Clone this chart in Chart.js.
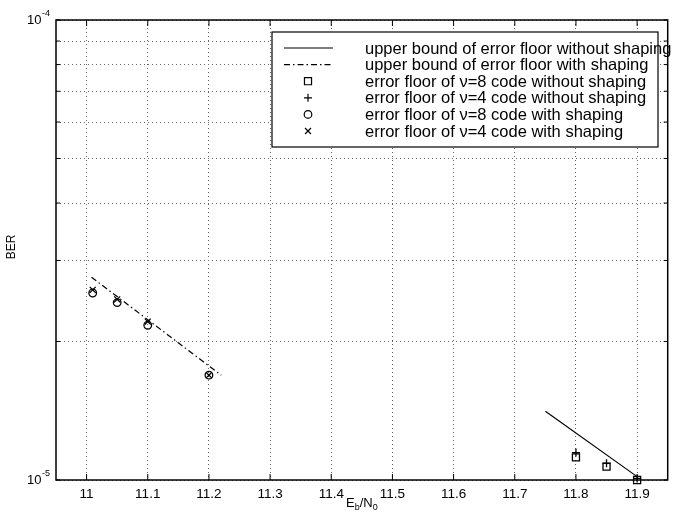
<!DOCTYPE html>
<html lang="en">
<head>
  <meta charset="UTF-8" />
  <title>BER error floor</title>
  <script src="https://cdn.jsdelivr.net/npm/chart.js@4.4.1/dist/chart.umd.min.js"></script>
  <style>
    body{margin:0;background:#fff;}
    #wrap{width:674px;height:518px;}
  </style>
</head>
<body>
  <div id="wrap"><canvas id="chart" width="674" height="518"></canvas></div>

  <script>
    // axis ticks
    const xTicks = [11, 11.1, 11.2, 11.3, 11.4, 11.5, 11.6, 11.7, 11.8, 11.9];
    const xTickLabels = ['11','11.1','11.2','11.3','11.4','11.5','11.6','11.7','11.8','11.9'];
    const yTicks = [1e-5, 2e-5, 3e-5, 4e-5, 5e-5, 6e-5, 7e-5, 8e-5, 9e-5, 1e-4];

    // upper bounds (two end points each)
    const boundNoShapeX = [11.75, 11.9];
    const boundNoShapeBER = [1.41e-5, 1.017e-5];
    const boundShapeX = [11.008, 11.22];
    const boundShapeBER = [2.76e-5, 1.69e-5];

    // simulated error floors
    const noShapeX = [11.8, 11.85, 11.9];
    const v8NoShapeBER = [1.12e-5, 1.069e-5, 1.0e-5];
    const v4NoShapeBER = [1.147e-5, 1.087e-5, 1.008e-5];
    const shapeX = [11.01, 11.05, 11.1, 11.2];
    const v8ShapeBER = [2.55e-5, 2.43e-5, 2.17e-5, 1.69e-5];
    const v4ShapeBER = [2.59e-5, 2.47e-5, 2.21e-5, 1.69e-5];

    const FONT = '"Liberation Sans", Arial, sans-serif';
    const pts = (xs, ys) => xs.map((x, i) => ({x, y: ys[i]}));

    const lineSet = (label, xs, ys, dash) => ({
      label, data: pts(xs, ys), showLine: true, pointRadius: 0,
      borderColor: '#000', borderWidth: 1.2, borderDash: dash, clip: false
    });
    const markSet = (label, xs, ys, style, r) => ({
      label, data: pts(xs, ys), showLine: false, pointStyle: style,
      pointRadius: r, pointBorderWidth: 1.3, pointBorderColor: '#000',
      pointBackgroundColor: 'rgba(0,0,0,0)', borderColor: '#000', clip: false
    });

    const datasets = [
      lineSet('upper bound of error floor without shaping', boundNoShapeX, boundNoShapeBER, []),
      lineSet('upper bound of error floor with shaping', boundShapeX, boundShapeBER, [6, 3, 1.5, 3]),
      markSet('error floor of \u03bd=8 code without shaping', noShapeX, v8NoShapeBER, 'rect', 5),
      markSet('error floor of \u03bd=4 code without shaping', noShapeX, v4NoShapeBER, 'cross', 4),
      markSet('error floor of \u03bd=8 code with shaping', shapeX, v8ShapeBER, 'circle', 3.8),
      markSet('error floor of \u03bd=4 code with shaping', shapeX, v4ShapeBER, 'crossRot', 4.2)
    ];

    const decor = {
      id: 'decor',
      afterDraw(chart){
        const {ctx, chartArea: a, scales: {x, y}} = chart;
        const seg = (x1, y1, x2, y2) => { ctx.beginPath(); ctx.moveTo(x1, y1); ctx.lineTo(x2, y2); ctx.stroke(); };
        ctx.save();
        ctx.strokeStyle = '#000';
        ctx.fillStyle = '#000';

        // inward tick marks
        ctx.lineWidth = 1;
        xTicks.forEach(v => {
          const px = x.getPixelForValue(v);
          seg(px, a.top, px, a.top + 6);
          seg(px, a.bottom, px, a.bottom - 6);
        });
        yTicks.forEach(v => {
          const py = y.getPixelForValue(v);
          seg(a.left, py, a.left + 4, py);
          seg(a.right, py, a.right - 4, py);
        });

        // axes box
        ctx.lineWidth = 1.5;
        ctx.strokeRect(a.left, a.top, a.right - a.left, a.bottom - a.top);

        // y labels 10^-5 / 10^-4
        ctx.textBaseline = 'middle';
        ctx.textAlign = 'left';
        [[1e-4, '-4'], [1e-5, '-5']].forEach(([v, ex]) => {
          const py = y.getPixelForValue(v);
          ctx.font = '13px ' + FONT;
          ctx.fillText('10', 27, py);
          ctx.font = '9px ' + FONT;
          ctx.fillText(ex, 42, py - 6);
        });

        // y title
        ctx.save();
        ctx.translate(12, 247);
        ctx.rotate(-Math.PI / 2);
        ctx.textAlign = 'center';
        ctx.font = '12px ' + FONT;
        ctx.fillText('BER', 0, 0);
        ctx.restore();

        // x title E_b/N_0
        const parts = [['E', 13, 0], ['b', 9, 3], ['/N', 13, 0], ['0', 9, 3]];
        ctx.textBaseline = 'alphabetic';
        let total = 0;
        parts.forEach(p => { ctx.font = p[1] + 'px ' + FONT; total += ctx.measureText(p[0]).width; });
        let cx = (a.left + a.right) / 2 - total / 2;
        parts.forEach(p => {
          ctx.font = p[1] + 'px ' + FONT;
          ctx.fillText(p[0], cx, 507 + p[2]);
          cx += ctx.measureText(p[0]).width;
        });

        // legend box
        const lx = 272, ly = 32, lw = 386, lh = 115;
        ctx.fillStyle = '#fff';
        ctx.fillRect(lx, ly, lw, lh);
        ctx.lineWidth = 1.2;
        ctx.strokeRect(lx, ly, lw, lh);
        ctx.fillStyle = '#000';
        ctx.font = '16.5px ' + FONT;
        ctx.textBaseline = 'middle';
        chart.data.datasets.forEach((ds, i) => {
          const ry = 48 + i * 16.6;
          ctx.strokeStyle = '#000';
          if (ds.showLine) {
            ctx.lineWidth = ds.borderWidth;
            ctx.setLineDash(ds.borderDash);
            seg(284, ry, 333, ry);
            ctx.setLineDash([]);
          } else {
            ctx.fillStyle = 'rgba(0,0,0,0)';
            Chart.helpers.drawPoint(ctx, {pointStyle: ds.pointStyle, radius: ds.pointRadius, rotation: 0, borderWidth: ds.pointBorderWidth}, 308, ry);
            ctx.fillStyle = '#000';
          }
          ctx.fillText(ds.label, 365, ry + 1);
        });
        ctx.restore();
      }
    };

    new Chart(document.getElementById('chart').getContext('2d'), {
      type: 'scatter',
      data: {datasets},
      plugins: [decor],
      options: {
        responsive: false,
        animation: false,
        layout: {padding: {top: 20, right: 2, left: 0, bottom: 0}},
        plugins: {legend: {display: false}, tooltip: {enabled: false}},
        scales: {
          x: {
            type: 'linear', min: 10.95, max: 11.95,
            afterBuildTicks: s => { s.ticks = xTicks.map(v => ({value: v})); },
            afterFit: s => { s.height = 38; },
            grid: {color: '#666', lineWidth: 1, drawTicks: false},
            border: {display: false, dash: [1, 3]},
            ticks: {
              padding: 6, color: '#000', font: {family: FONT, size: 13.5},
              maxRotation: 0, autoSkip: false,
              callback: (v, i) => xTickLabels[i]
            }
          },
          y: {
            type: 'logarithmic', min: 1e-5, max: 1e-4,
            afterBuildTicks: s => { s.ticks = yTicks.map(v => ({value: v})); },
            afterFit: s => { s.width = 56; },
            grid: {color: '#666', lineWidth: 1, drawTicks: false},
            border: {display: false, dash: [1, 3]},
            ticks: {display: false}
          }
        }
      }
    });
  </script>
</body>
</html>
